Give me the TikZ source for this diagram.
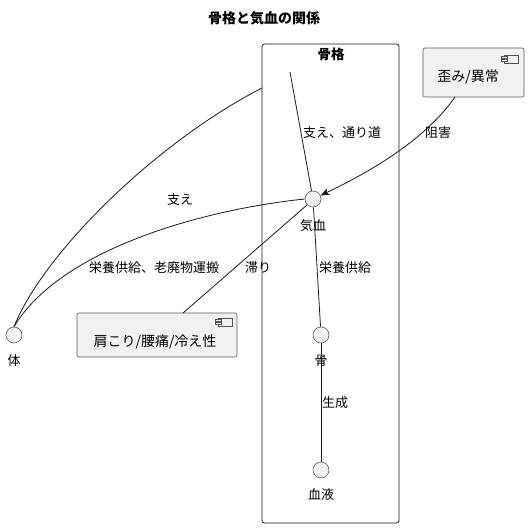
\documentclass[tikz,border=0pt]{standalone}
\usepackage{fontspec}
\setmainfont{Noto Sans CJK JP}
\usetikzlibrary{arrows.meta}
\definecolor{boxfill}{HTML}{F1F1F1}
\definecolor{linec}{HTML}{181818}
\tikzset{
  x=1bp,y=-1bp,
  iface/.style={circle,draw=linec!70,fill=boxfill,line width=0.6bp,minimum size=16bp,inner sep=0pt},
  lbl/.style={font=\fontsize{13bp}{15bp}\selectfont,inner sep=1bp},
  ctext/.style={font=\fontsize{14bp}{16bp}\selectfont,inner sep=1bp},
  comp/.style={rectangle,rounded corners=2bp,draw=linec!70,fill=boxfill,line width=0.6bp,inner sep=0pt},
  conn/.style={draw=linec,line width=0.8bp},
}
\newcommand{\compicon}[2]{%
  \draw[linec!75,line width=0.6bp,fill=boxfill] (#1,#2) rectangle ++(14,8);
  \draw[linec!75,line width=0.6bp,fill=boxfill] (#1-3,#2+1.5) rectangle ++(6,1.8);
  \draw[linec!75,line width=0.6bp,fill=boxfill] (#1-3,#2+4.7) rectangle ++(6,1.8);
}
\begin{document}
\begin{tikzpicture}
\useasboundingbox (0,0) rectangle (528,528);
% title
\node[font=\bfseries\fontsize{14bp}{16bp}\selectfont] (title) at (264,18) {骨格と気血の関係};
% frame
\draw[linec,line width=0.8bp,rounded corners=2.5bp] (262,44) rectangle (399,523);
\node[font=\bfseries\fontsize{13.5bp}{15bp}\selectfont] (frametitle) at (331,54) {骨格};
\coordinate (pkgtop) at (290,72);
\coordinate (pkgleft) at (262,88);
% nodes
\node[iface] (qi) at (313,199) {};
\node[lbl] (qil) at (313,226) {気血};
\node[iface] (bone) at (321,335) {};
\node[lbl] (bonel) at (321,361) {骨};
\node[iface] (blood) at (321,470) {};
\node[lbl] (bloodl) at (321,495) {血液};
\node[iface] (body) at (14,335) {};
\node[lbl] (bodyl) at (14,361) {体};
% components
\node[comp,minimum width=101bp,minimum height=49bp] (dist) at (473.5,72.5) {};
\node[ctext] (distt) at (468,77) {歪み/異常};
\compicon{504}{55}
\node[comp,minimum width=160bp,minimum height=44bp] (sym) at (157,335) {};
\node[ctext] (symt) at (155,342) {肩こり/腰痛/冷え性};
\compicon{218}{318}
% connectors
\draw[conn] (pkgtop) -- (qi);
\node[lbl] at (342,133) {支え、通り道};
\draw[conn,-{Stealth[length=9bp,width=7bp,inset=2.5bp]}] (455,97) .. controls (425,140) and (370,172) .. (qi);
\node[lbl] at (438,133) {阻害};
\draw[conn] (pkgleft) .. controls (160,140) and (45,250) .. (body.north);
\node[lbl] at (180,200) {支え};
\draw[conn] (qi.west) .. controls (200,210) and (60,250) .. (body.north);
\node[lbl] at (154,268) {栄養供給、老廃物運搬};
\draw[conn] (qi.south west) -- (183,313);
\node[lbl] at (258,268) {滞り};
\draw[conn] (qi) -- (bone);
\node[lbl] at (345,268) {栄養供給};
\draw[conn] (bone) -- (blood);
\node[lbl] at (335,403) {生成};
\end{tikzpicture}
\end{document}
